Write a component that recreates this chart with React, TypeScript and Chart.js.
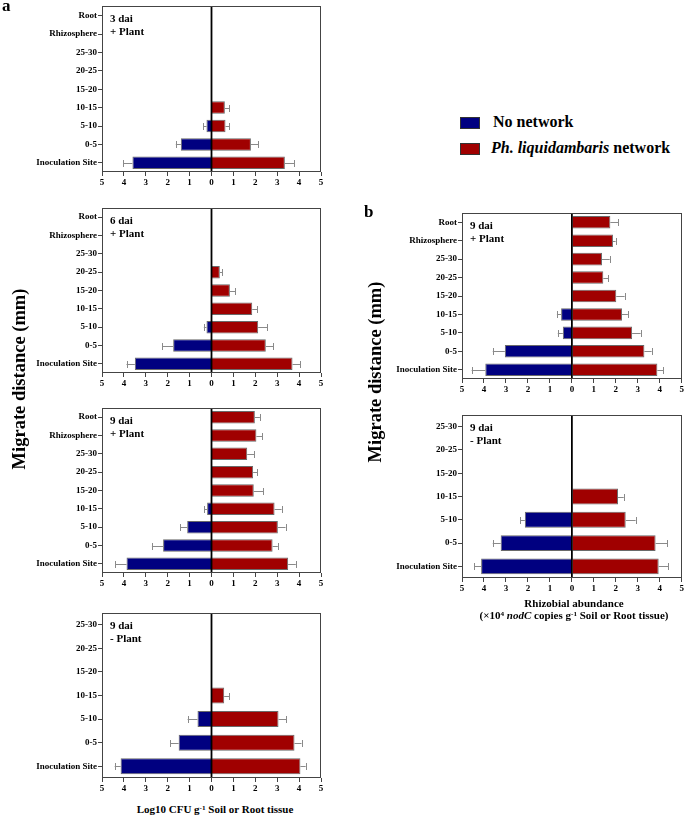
import React, { useEffect, useRef } from 'react';
import { Chart, registerables } from 'chart.js';

Chart.register(...registerables);

// ---------- categories ----------
const labelsPlant = ['Root', 'Rhizosphere', '25-30', '20-25', '15-20', '10-15', '5-10', '0-5', 'Inoculation Site'];
const labelsNoPlant = ['25-30', '20-25', '15-20', '10-15', '5-10', '0-5', 'Inoculation Site'];
const xTickValues = [-5, -4, -3, -2, -1, 0, 1, 2, 3, 4, 5];

// ---------- a: 3 dai + Plant ----------
const a1NoNet = [null, null, null, null, null, null, 0.23, 1.4, 3.61];
const a1NoNetErr = [0, 0, 0, 0, 0, 0, 0.15, 0.23, 0.41];
const a1Net = [null, null, null, null, null, 0.61, 0.64, 1.8, 3.35];
const a1NetErr = [0, 0, 0, 0, 0, 0.2, 0.17, 0.33, 0.42];

// ---------- a: 6 dai + Plant ----------
const a2NoNet = [null, null, null, null, null, null, 0.23, 1.75, 3.5];
const a2NoNetErr = [0, 0, 0, 0, 0, 0, 0.12, 0.49, 0.38];
const a2Net = [null, null, null, 0.38, 0.84, 1.86, 2.13, 2.48, 3.7];
const a2NetErr = [0, 0, 0, 0.12, 0.24, 0.23, 0.41, 0.34, 0.36];

// ---------- a: 9 dai + Plant ----------
const a3NoNet = [null, null, null, null, null, 0.2, 1.11, 2.21, 3.88];
const a3NoNetErr = [0, 0, 0, 0, 0, 0.13, 0.31, 0.51, 0.52];
const a3Net = [1.98, 2.05, 1.63, 1.9, 1.93, 2.88, 3.03, 2.79, 3.5];
const a3NetErr = [0.23, 0.26, 0.32, 0.19, 0.43, 0.32, 0.35, 0.24, 0.35];

// ---------- a: 9 dai - Plant ----------
const a4NoNet = [null, null, null, null, 0.64, 1.5, 4.15];
const a4NoNetErr = [0, 0, 0, 0, 0.45, 0.38, 0.27];
const a4Net = [null, null, null, 0.58, 3.06, 3.79, 4.06];
const a4NetErr = [0, 0, 0, 0.24, 0.36, 0.32, 0.24];

// ---------- b: 9 dai + Plant ----------
const b1NoNet = [null, null, null, null, null, 0.49, 0.41, 3.05, 3.94];
const b1NoNetErr = [0, 0, 0, 0, 0, 0.19, 0.23, 0.55, 0.62];
const b1Net = [1.75, 1.87, 1.37, 1.43, 2.02, 2.28, 2.74, 3.3, 3.89];
const b1NetErr = [0.36, 0.12, 0.35, 0.23, 0.38, 0.27, 0.39, 0.33, 0.26];

// ---------- b: 9 dai - Plant ----------
const b2NoNet = [null, null, null, null, 2.14, 3.24, 4.13];
const b2NoNetErr = [0, 0, 0, 0, 0.2, 0.36, 0.32];
const b2Net = [null, null, null, 2.1, 2.45, 3.81, 3.95];
const b2NetErr = [0, 0, 0, 0.26, 0.45, 0.52, 0.43];

const BLUE = '#000080';
const RED = '#a00000';
const SERIF = "'Liberation Serif', 'Times New Roman', serif";

type Spec = {
  labels: string[];
  noNet: (number | null)[];
  noNetErr: number[];
  net: (number | null)[];
  netErr: number[];
  note: [string, string];
  canvas: { x: number; y: number; w: number; h: number };
  area: { l: number; t: number; r: number; b: number };
};

const panels: Spec[] = [
  { labels: labelsPlant, noNet: a1NoNet, noNetErr: a1NoNetErr, net: a1Net, netErr: a1NetErr, note: ['3 dai', '+ Plant'],
    canvas: { x: 0, y: 0, w: 335, h: 194 }, area: { l: 102, t: 6, r: 321, b: 172 } },
  { labels: labelsPlant, noNet: a2NoNet, noNetErr: a2NoNetErr, net: a2Net, netErr: a2NetErr, note: ['6 dai', '+ Plant'],
    canvas: { x: 0, y: 200, w: 335, h: 195 }, area: { l: 102, t: 208, r: 321, b: 373 } },
  { labels: labelsPlant, noNet: a3NoNet, noNetErr: a3NoNetErr, net: a3Net, netErr: a3NetErr, note: ['9 dai', '+ Plant'],
    canvas: { x: 0, y: 400, w: 335, h: 195 }, area: { l: 102, t: 408, r: 321, b: 573 } },
  { labels: labelsNoPlant, noNet: a4NoNet, noNetErr: a4NoNetErr, net: a4Net, netErr: a4NetErr, note: ['9 dai', '- Plant'],
    canvas: { x: 0, y: 605, w: 335, h: 195 }, area: { l: 102, t: 613, r: 321, b: 778 } },
  { labels: labelsPlant, noNet: b1NoNet, noNetErr: b1NoNetErr, net: b1Net, netErr: b1NetErr, note: ['9 dai', '+ Plant'],
    canvas: { x: 360, y: 205, w: 325, h: 196 }, area: { l: 462, t: 213, r: 682, b: 379 } },
  { labels: labelsNoPlant, noNet: b2NoNet, noNetErr: b2NoNetErr, net: b2Net, netErr: b2NetErr, note: ['9 dai', '- Plant'],
    canvas: { x: 360, y: 407, w: 325, h: 193 }, area: { l: 462, t: 415, r: 682, b: 578 } },
];

function Panel({ spec }: { spec: Spec }) {
  const ref = useRef<HTMLCanvasElement>(null);
  useEffect(() => {
    const s = spec;
    const yW = s.area.l - s.canvas.x;
    const padTop = s.area.t - s.canvas.y;
    const padRight = s.canvas.x + s.canvas.w - s.area.r;
    const xH = s.canvas.y + s.canvas.h - s.area.b;
    const errs = [s.noNetErr, s.netErr];

    const framePlugin = {
      id: 'frame',
      afterDatasetsDraw(chart: any) {
        const { ctx, chartArea: a, scales } = chart;
        const xs = scales.x;
        ctx.save();
        // error bars
        ctx.strokeStyle = '#8a8a8a';
        ctx.lineWidth = 1;
        for (let d = 0; d < 2; d++) {
          const meta = chart.getDatasetMeta(d);
          const vals = chart.data.datasets[d].data as (number | null)[];
          meta.data.forEach((el: any, i: number) => {
            const v = vals[i];
            const e = errs[d][i];
            if (v == null || !e) return;
            const sign = v < 0 ? -1 : 1;
            const x0 = xs.getPixelForValue(v);
            const x1 = xs.getPixelForValue(v + sign * e);
            const y = Math.round(el.y) + 0.5;
            ctx.beginPath();
            ctx.moveTo(x0, y);
            ctx.lineTo(x1, y);
            ctx.moveTo(Math.round(x1) + 0.5, y - 3.5);
            ctx.lineTo(Math.round(x1) + 0.5, y + 3.5);
            ctx.stroke();
          });
        }
        // zero line
        const zx = xs.getPixelForValue(0);
        ctx.strokeStyle = '#000';
        ctx.lineWidth = 1.8;
        ctx.beginPath();
        ctx.moveTo(zx, a.top);
        ctx.lineTo(zx, a.bottom);
        ctx.stroke();
        // frame
        ctx.strokeStyle = '#444';
        ctx.lineWidth = 1;
        ctx.strokeRect(Math.round(a.left) + 0.5, Math.round(a.top) + 0.5, Math.round(a.right - a.left) - 1, Math.round(a.bottom - a.top) - 1);
        // note
        ctx.fillStyle = '#000';
        ctx.font = `bold 11px ${SERIF}`;
        ctx.textBaseline = 'middle';
        ctx.textAlign = 'left';
        ctx.fillText(s.note[0], a.left + 8, a.top + 13);
        ctx.fillText(s.note[1], a.left + 8, a.top + 26);
        ctx.restore();
      },
    };

    const tickFont = { family: SERIF, size: 9, weight: 'bold' as const };
    const chart = new Chart(ref.current as HTMLCanvasElement, {
      type: 'bar',
      data: {
        labels: s.labels,
        datasets: [
          {
            label: 'No network',
            data: s.noNet.map((v) => (v == null ? null : -v)) as any,
            backgroundColor: BLUE,
            borderColor: 'rgba(90,90,90,0.9)',
            borderWidth: 1,
            grouped: false,
            barPercentage: 0.68,
            categoryPercentage: 1,
          },
          {
            label: 'Ph. liquidambaris network',
            data: s.net as any,
            backgroundColor: RED,
            borderColor: 'rgba(90,90,90,0.9)',
            borderWidth: 1,
            grouped: false,
            barPercentage: 0.68,
            categoryPercentage: 1,
          },
        ],
      },
      options: {
        indexAxis: 'y',
        responsive: false,
        animation: false,
        devicePixelRatio: 1,
        layout: { padding: { top: padTop, right: padRight, left: 0, bottom: 0 } },
        plugins: { legend: { display: false }, tooltip: { enabled: false } },
        scales: {
          x: {
            type: 'linear',
            min: -5,
            max: 5,
            afterBuildTicks: (sc: any) => {
              sc.ticks = xTickValues.map((v) => ({ value: v }));
            },
            ticks: {
              font: tickFont,
              color: '#000',
              padding: 1,
              maxRotation: 0,
              autoSkip: false,
              callback: (v: any) => String(Math.abs(Number(v))),
            },
            grid: { drawOnChartArea: false, drawTicks: true, tickLength: 4, color: '#444' },
            border: { display: false },
            afterFit: (sc: any) => {
              sc.height = xH;
            },
          },
          y: {
            ticks: { font: tickFont, color: '#000', padding: 1, autoSkip: false },
            grid: { drawOnChartArea: false, drawTicks: true, tickLength: 4, color: '#444', offset: false },
            border: { display: false },
            afterFit: (sc: any) => {
              sc.width = yW;
            },
          },
        },
      } as any,
      plugins: [framePlugin],
    });
    return () => chart.destroy();
  }, [spec]);
  return (
    <canvas
      ref={ref}
      width={spec.canvas.w}
      height={spec.canvas.h}
      style={{ position: 'absolute', left: spec.canvas.x, top: spec.canvas.y, width: spec.canvas.w, height: spec.canvas.h }}
    />
  );
}

const txt: React.CSSProperties = {
  position: 'absolute',
  fontFamily: SERIF,
  fontWeight: 'bold',
  color: '#000',
  whiteSpace: 'nowrap',
  lineHeight: 1,
};

function Sup({ children }: { children: React.ReactNode }) {
  return <span style={{ fontSize: '0.65em', position: 'relative', top: '-0.45em' }}>{children}</span>;
}

export default function App() {
  return (
    <div style={{ position: 'absolute', left: 0, top: 0, width: 685, height: 816, background: '#fff', overflow: 'hidden' }}>
      {panels.map((p, i) => (
        <Panel key={i} spec={p} />
      ))}
      <div style={{ ...txt, left: 2, top: -3, fontSize: 17 }}>a</div>
      <div style={{ ...txt, left: 364, top: 203, fontSize: 17 }}>b</div>

      {/* legend */}
      <div style={{ position: 'absolute', left: 460, top: 117, width: 18, height: 10, background: BLUE, border: '1px solid #333' }} />
      <div style={{ ...txt, left: 493, top: 114, fontSize: 16 }}>No network</div>
      <div style={{ position: 'absolute', left: 460, top: 143, width: 18, height: 10, background: RED, border: '1px solid #333' }} />
      <div style={{ ...txt, left: 491, top: 140, fontSize: 16 }}>
        <i>Ph. liquidambaris</i> network
      </div>

      {/* y titles */}
      <div style={{ ...txt, left: 19, top: 379, fontSize: 18.5, transform: 'translate(-50%, -50%) rotate(-90deg)' }}>
        Migrate distance (mm)
      </div>
      <div style={{ ...txt, left: 375, top: 372, fontSize: 18.5, transform: 'translate(-50%, -50%) rotate(-90deg)' }}>
        Migrate distance (mm)
      </div>

      {/* x titles */}
      <div style={{ ...txt, left: 215, top: 810, fontSize: 11, transform: 'translate(-50%, -50%)' }}>
        Log10 CFU g<Sup>-1</Sup> Soil or Root tissue
      </div>
      <div style={{ ...txt, left: 574, top: 603, fontSize: 11, transform: 'translate(-50%, -50%)' }}>Rhizobial abundance</div>
      <div style={{ ...txt, left: 574, top: 616, fontSize: 11, transform: 'translate(-50%, -50%)' }}>
        (×10<Sup>4</Sup> <i>nodC</i> copies g<Sup>-1</Sup> Soil or Root tissue)
      </div>
    </div>
  );
}
